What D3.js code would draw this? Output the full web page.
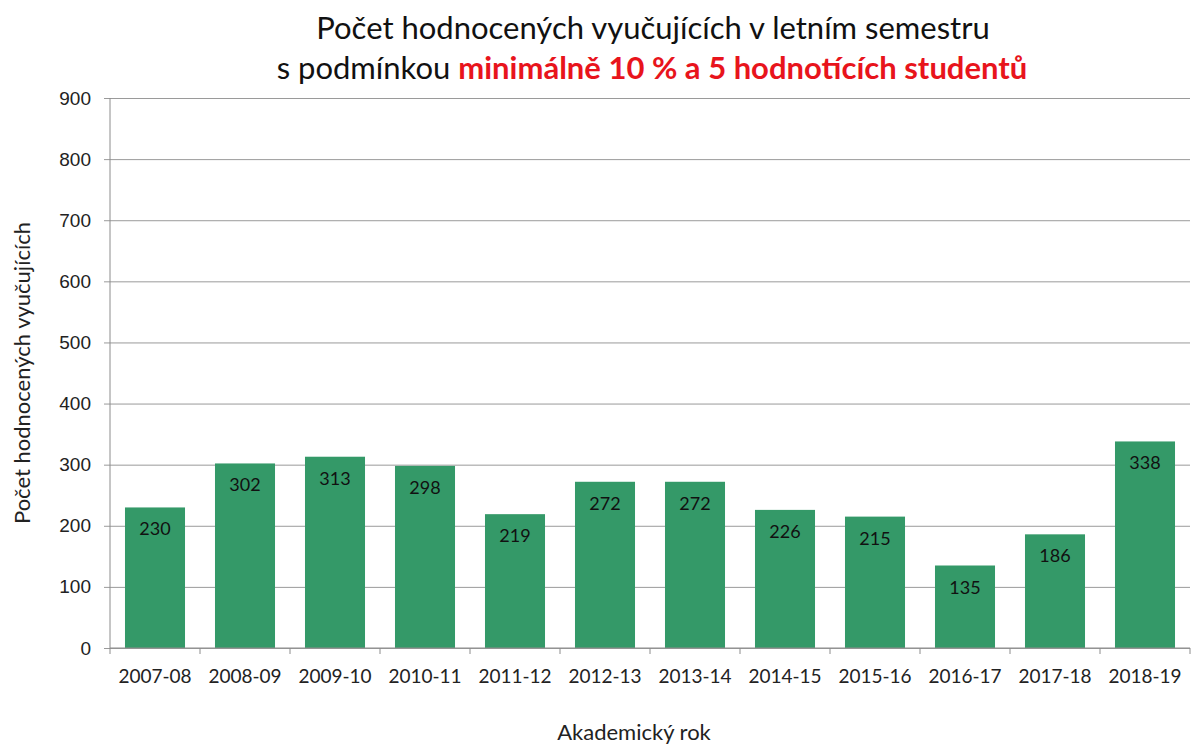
<!DOCTYPE html>
<html lang="cs">
<head>
<meta charset="UTF-8">
<title>Počet hodnocených vyučujících</title>
<style>
  body { margin: 0; background: #fff; }
  svg { font-family: Lato, "Open Sans", sans-serif; }
  .grid .tick line { stroke: #9a9a9a; }
  .axis path, .axis line { stroke: #8c8c8c; }
  .axis text { fill: #222; font-size: 19px; }
</style>
</head>
<body>
<div id="chart"></div>
<script src="https://d3js.org/d3.v7.min.js"></script>
<script>
const years = ['2007-08', '2008-09', '2009-10', '2010-11', '2011-12', '2012-13',
               '2013-14', '2014-15', '2015-16', '2016-17', '2017-18', '2018-19'];
const counts = [230, 302, 313, 298, 219, 272, 272, 226, 215, 135, 186, 338];
const yTicks = [0, 100, 200, 300, 400, 500, 600, 700, 800, 900];

const width = 1192, height = 745;
const margin = { top: 98, right: 2, bottom: 97, left: 110 };

const svg = d3.select('#chart').append('svg')
  .attr('width', width).attr('height', height);

const x = d3.scaleBand()
  .domain(years)
  .range([margin.left, width - margin.right])
  .paddingInner(0.333).paddingOuter(0.1665);

const y = d3.scaleLinear()
  .domain([0, 900])
  .range([height - margin.bottom, margin.top]);

// mřížka + osa y
svg.append('g')
  .attr('class', 'axis grid')
  .attr('transform', `translate(${margin.left},0)`)
  .call(d3.axisLeft(y).tickValues(yTicks)
    .tickSize(-(width - margin.left - margin.right))
    .tickPadding(19))
  .call(g => g.selectAll('.tick line').attr('x1', -6))
  .call(g => g.select('.domain').remove());

svg.append('line')
  .attr('x1', margin.left).attr('x2', margin.left)
  .attr('y1', y(900)).attr('y2', y(0))
  .attr('stroke', '#8c8c8c');

// sloupce
svg.append('g').selectAll('rect')
  .data(counts)
  .join('rect')
  .attr('x', (d, i) => x(years[i]))
  .attr('y', d => y(d))
  .attr('width', x.bandwidth())
  .attr('height', d => y(0) - y(d))
  .attr('fill', '#349968');

// popisky hodnot
svg.append('g').selectAll('text')
  .data(counts)
  .join('text')
  .attr('x', (d, i) => x(years[i]) + x.bandwidth() / 2)
  .attr('y', d => y(d) + 28)
  .attr('text-anchor', 'middle')
  .attr('font-size', '18px')
  .attr('fill', '#111')
  .text(d => d);

// osa x - ticky na hranicích kategorií
const step = x.step();
const xAxis = svg.append('g')
  .attr('class', 'axis')
  .attr('transform', `translate(0,${y(0)})`);
xAxis.append('line')
  .attr('x1', margin.left).attr('x2', width - margin.right)
  .attr('stroke', '#8c8c8c');
xAxis.selectAll('line.tk')
  .data(d3.range(years.length + 1))
  .join('line')
  .attr('class', 'tk')
  .attr('x1', i => margin.left + i * step)
  .attr('x2', i => margin.left + i * step)
  .attr('y1', 0).attr('y2', 6)
  .attr('stroke', '#8c8c8c');
xAxis.selectAll('text')
  .data(years)
  .join('text')
  .attr('x', d => x(d) + x.bandwidth() / 2)
  .attr('y', 35)
  .attr('text-anchor', 'middle')
  .attr('font-size', '18px')
  .text(d => d);

// názvy os
svg.append('text')
  .attr('transform', `translate(30,${(y(0) + y(900)) / 2}) rotate(-90)`)
  .attr('text-anchor', 'middle')
  .attr('font-size', '22px')
  .attr('fill', '#222')
  .text('Počet hodnocených vyučujících');

svg.append('text')
  .attr('x', 634).attr('y', 740)
  .attr('text-anchor', 'middle')
  .attr('font-size', '22px')
  .attr('fill', '#222')
  .text('Akademický rok');

// titulek
svg.append('text')
  .attr('x', 653).attr('y', 39)
  .attr('text-anchor', 'middle')
  .attr('font-size', '31px')
  .attr('fill', '#111')
  .text('Počet hodnocených vyučujících v letním semestru');

const t2 = svg.append('text')
  .attr('x', 652).attr('y', 79)
  .attr('text-anchor', 'middle')
  .attr('font-size', '31px')
  .attr('fill', '#111');
t2.append('tspan').text('s podmínkou ');
t2.append('tspan').attr('fill', '#e8141c').attr('font-weight', 'bold')
  .text('minimálně 10 % a 5 hodnotících studentů');
</script>
</body>
</html>
